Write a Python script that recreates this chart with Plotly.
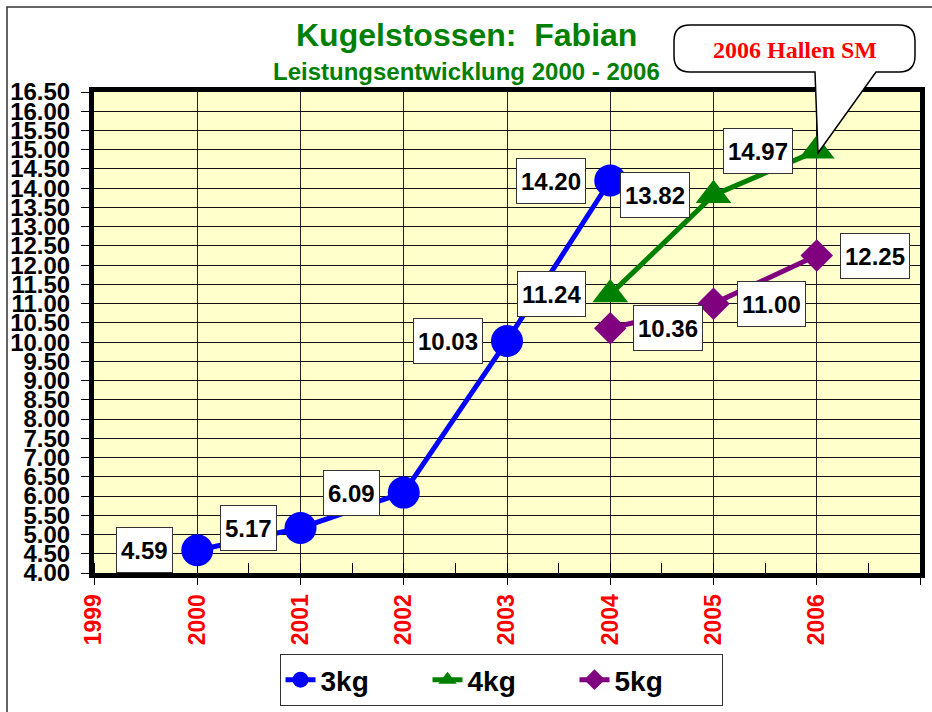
import plotly.graph_objects as go

# ---------------- data ----------------
years_3kg = [2000, 2001, 2002, 2003, 2004]
vals_3kg = [4.59, 5.17, 6.09, 10.03, 14.20]
years_4kg = [2004, 2005, 2006]
vals_4kg = [11.24, 13.82, 14.97]
years_5kg = [2004, 2005, 2006]
vals_5kg = [10.36, 11.00, 12.25]

series_names = ["3kg", "4kg", "5kg"]
title_text = "Kugelstossen:\u00a0\u00a0Fabian"
subtitle_text = "Leistungsentwicklung 2000 - 2006"
callout_text = "2006 Hallen SM"

x_range = [1999, 2007]
y_range = [4.0, 16.5]

# ---------------- layout geometry ----------------
W, H = 932, 712
ML, MR, MT, MB = 94, 12, 92, 139
PW = W - ML - MR
PH = H - MT - MB


def px(x):
    return (x - ML) / PW


def py(y):
    return (H - MB - y) / PH


FONT = "Liberation Sans"

fig = go.Figure()

styles = [
    dict(color="#0000FF", symbol="circle", size=32),
    dict(color="#008000", symbol="triangle-up", size=31),
    dict(color="#800080", symbol="diamond", size=25),
]
data = [(years_3kg, vals_3kg), (years_4kg, vals_4kg), (years_5kg, vals_5kg)]

for name, (xs, ys), st in zip(series_names, data, styles):
    fig.add_trace(go.Scatter(
        x=xs, y=ys, name=name, mode="lines+markers",
        line=dict(color=st["color"], width=5),
        marker=dict(color=st["color"], symbol=st["symbol"], size=st["size"]),
        cliponaxis=False,
    ))

# data labels
annotations = []
sides = ["left", "left", "right"]
for (xs, ys), side in zip(data, sides):
    for xv, yv in zip(xs, ys):
        annotations.append(dict(
            x=xv, y=yv, xref="x", yref="y", text=f"{yv:.2f}",
            showarrow=False,
            xanchor="right" if side == "left" else "left",
            xshift=-24 if side == "left" else 23,
            yanchor="middle", height=36,
            bgcolor="white", bordercolor="#333333", borderwidth=1, borderpad=4,
            font=dict(family=FONT, size=24, color="black", weight="bold"),
        ))

# titles
annotations.append(dict(
    x=px(466), y=py(35), xref="paper", yref="paper", text=title_text,
    showarrow=False, xanchor="center", yanchor="middle",
    font=dict(family=FONT, size=32, color="#008000", weight="bold"),
))
annotations.append(dict(
    x=px(466), y=py(71), xref="paper", yref="paper", text=subtitle_text,
    showarrow=False, xanchor="center", yanchor="middle",
    font=dict(family=FONT, size=24, color="#008000", weight="bold"),
))
# callout text
annotations.append(dict(
    x=px(795), y=py(50), xref="paper", yref="paper", text=callout_text,
    showarrow=False, xanchor="center", yanchor="middle",
    font=dict(family="Liberation Serif", size=24, color="#FF0000", weight="bold"),
))

# callout bubble path (pixel -> paper)
r = 16
bx0, bx1, by0, by1 = 674, 915, 25, 72
tail_l, tail_r, tip_x, tip_y = 815, 876, 818, 153


def P(x, y):
    return f"{px(x):.5f},{py(y):.5f}"


path = (
    f"M{P(bx0 + r, by0)} L{P(bx1 - r, by0)} Q{P(bx1, by0)} {P(bx1, by0 + r)} "
    f"L{P(bx1, by1 - r)} Q{P(bx1, by1)} {P(bx1 - r, by1)} "
    f"L{P(tail_r, by1)} L{P(tip_x, tip_y)} L{P(tail_l, by1)} "
    f"L{P(bx0 + r, by1)} Q{P(bx0, by1)} {P(bx0, by1 - r)} "
    f"L{P(bx0, by0 + r)} Q{P(bx0, by0)} {P(bx0 + r, by0)} Z"
)

shapes = [
    # outer chart border
    dict(type="rect", xref="paper", yref="paper",
         x0=px(7), y0=py(740), x1=px(960), y1=py(7),
         line=dict(color="#333333", width=1.5), fillcolor="rgba(0,0,0,0)",
         layer="below"),
    dict(type="path", xref="paper", yref="paper", path=path,
         fillcolor="white", line=dict(color="black", width=1.5), layer="above"),
]

fig.update_layout(
    width=W, height=H,
    margin=dict(l=ML, r=MR, t=MT, b=MB, autoexpand=False),
    paper_bgcolor="white",
    plot_bgcolor="#FFFFCC",
    annotations=annotations,
    shapes=shapes,
    showlegend=True,
    legend=dict(
        orientation="h", x=px(501), xanchor="center", y=py(654), yanchor="top",
        bgcolor="white", bordercolor="#333333", borderwidth=1,
        font=dict(family=FONT, size=28, color="black", weight="bold"),
        entrywidth=102, tracegroupgap=0,
    ),
    xaxis=dict(
        range=x_range, tick0=1999, dtick=1,
        ticks="outside", ticklen=7, tickwidth=1, tickcolor="black",
        tickangle=-90,
        tickfont=dict(family=FONT, size=23, color="#FF0000", weight="bold"),
        showgrid=True, gridcolor="#222222", gridwidth=1,
        showline=True, linewidth=5, linecolor="black", mirror=True,
        zeroline=False,
        minor=dict(dtick=0.5, ticks="inside", ticklen=10, tickcolor="black",
                   tickwidth=1, showgrid=False),
    ),
    yaxis=dict(
        range=y_range, tick0=4, dtick=0.5, tickformat=".2f",
        ticks="outside", ticklen=8, tickwidth=1, tickcolor="black",
        tickfont=dict(family=FONT, size=24, color="black", weight="bold"),
        ticklabelstandoff=6,
        showgrid=True, gridcolor="#111111", gridwidth=1,
        showline=True, linewidth=5, linecolor="black", mirror=True,
        zeroline=False,
    ),
)

fig.write_html(
    "out.html",
    config={"displayModeBar": False},
    post_script="document.body.style.margin='0';document.body.style.overflow='hidden';",
)
